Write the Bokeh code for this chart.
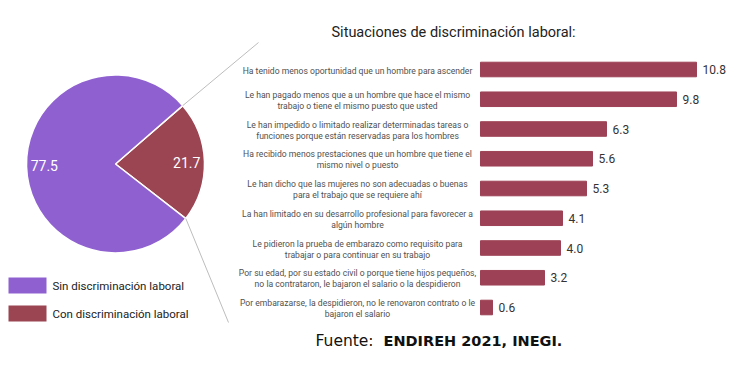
import math
from bokeh.plotting import figure
from bokeh.models import Range1d
from bokeh.embed import file_html
from bokeh.resources import INLINE
from bokeh.core.properties import value

# ---------------- data ----------------
pie_labels = ["Sin discriminación laboral", "Con discriminación laboral"]
pie_values = [77.5, 21.7]
pie_colors = ["#8f60cf", "#9b4452"]

title = "Situaciones de discriminación laboral:"
bar_labels = [
    "Ha tenido menos oportunidad que un hombre para ascender",
    "Le han pagado menos que a un hombre que hace el mismo\ntrabajo o tiene el mismo puesto que usted",
    "Le han impedido o limitado realizar determinadas tareas o\nfunciones porque están reservadas para los hombres",
    "Ha recibido menos prestaciones que un hombre que tiene el\nmismo nivel o puesto",
    "Le han dicho que las mujeres no son adecuadas o buenas\npara el trabajo que se requiere ahí",
    "La han limitado en su desarrollo profesional para favorecer a\nalgún hombre",
    "Le pidieron la prueba de embarazo como requisito para\ntrabajar o para continuar en su trabajo",
    "Por su edad, por su estado civil o porque tiene hijos pequeños,\nno la contrataron, le bajaron el salario o la despidieron",
    "Por embarazarse, la despidieron, no le renovaron contrato o le\nbajaron el salario",
]
bar_values = [10.8, 9.8, 6.3, 5.6, 5.3, 4.1, 4.0, 3.2, 0.6]
bar_color = "#9d4256"

source_prefix = "Fuente:"
source_text = "ENDIREH 2021, INEGI."

# ---------------- layout constants ----------------
W, H = 735, 366
BAR0 = 480.0       # pixel of value 0
PX_PER = 20.0      # pixels per unit
ROW0 = 69.0        # pixel (from top) of first bar center
ROW_STEP = 29.75   # pixels between bars

CX, CY, R = 115.0, 163.5, 89.0   # pie centre (from top) and radius
START_DEG = -37.8

FONT = value("Roboto")

def ty(y_top):
    return H - y_top

p = figure(width=W, height=H, x_range=Range1d(0, W), y_range=Range1d(0, H),
           output_backend="svg", toolbar_location=None, min_border=0,
           x_axis_location=None, y_axis_location=None,
           outline_line_color=None, background_fill_color="white")
p.grid.visible = False

p.extra_x_ranges = {"bx": Range1d(-BAR0 / PX_PER, (W - BAR0) / PX_PER)}
p.extra_y_ranges = {"by": Range1d((H - ROW0) / ROW_STEP, -ROW0 / ROW_STEP)}

# ---------------- title ----------------
p.text(x=[331], y=[ty(32)], text=[title], text_font=FONT, text_font_size="14.5px",
       text_color="#222222", text_baseline="middle", text_align="left")

# ---------------- bars ----------------
idx = list(range(len(bar_values)))
p.hbar(y=idx, left=0, right=bar_values, height=0.49, color=bar_color,
       x_range_name="bx", y_range_name="by")
p.text(x=bar_values, y=idx, text=[f"{v:.1f}" for v in bar_values], x_offset=6,
       text_baseline="middle", text_align="left", text_font=FONT,
       text_font_size="12px", text_color="#333333",
       x_range_name="bx", y_range_name="by")
p.text(x=[357] * len(bar_labels), y=idx, text=bar_labels, y_offset=1,
       text_baseline="middle", text_align="center", text_font=FONT,
       text_font_size="8.6px", text_color="#505050", text_line_height=1.1,
       y_range_name="by")

# ---------------- pie ----------------
total = sum(pie_values)
order = list(reversed(range(len(pie_values))))  # start with red slice
a = math.radians(START_DEG)
starts, ends, cols, mids = [], [], [], []
for i in order:
    span = pie_values[i] / total * 2 * math.pi
    starts.append(a)
    ends.append(a + span)
    cols.append(pie_colors[i])
    mids.append((i, a + span / 2))
    a += span
p.wedge(x=[CX] * len(order), y=[ty(CY)] * len(order), radius=R,
        start_angle=starts, end_angle=ends, fill_color=cols,
        line_color="white", line_width=1.5)

lx, ly, lt = [], [], []
for i, m in mids:
    lx.append(CX + 0.8 * R * math.cos(m))
    ly.append(ty(CY) + 0.8 * R * math.sin(m))
    lt.append(f"{pie_values[i]:.1f}")
p.text(x=lx, y=ly, text=lt, text_align="center", text_baseline="middle",
       text_font=FONT, text_font_size="14px", text_color="white")

# connector lines from red slice edges to bar panel
red_start, red_end = starts[0], ends[0]
e1 = (CX + R * math.cos(red_end), ty(CY) + R * math.sin(red_end))
e2 = (CX + R * math.cos(red_start), ty(CY) + R * math.sin(red_start))
p.segment(x0=[e1[0], e2[0]], y0=[e1[1], e2[1]], x1=[258, 228], y1=[ty(42), ty(322)],
          line_color="#bdbdbd", line_width=1)

# ---------------- legend ----------------
leg_y = [285, 313]
p.rect(x=[27, 27], y=[ty(v) for v in leg_y], width=38, height=16,
       fill_color=pie_colors, line_color=None)
p.text(x=[52, 52], y=[ty(v) for v in leg_y], text=pie_labels, text_baseline="middle",
       text_align="left", text_font=FONT, text_font_size="11.5px", text_color="#222222")

# ---------------- source ----------------
p.text(x=[315], y=[ty(340)], text=[source_prefix], text_baseline="middle",
       text_align="left", text_font=value("DejaVu Sans"), text_font_size="15.5px",
       text_color="#111111")
p.text(x=[383], y=[ty(340)], text=[source_text], text_baseline="middle",
       text_align="left", text_font=value("DejaVu Sans"), text_font_size="14.5px",
       text_font_style="bold", text_color="#111111")

open("out.html", "w").write(file_html(p, INLINE))
